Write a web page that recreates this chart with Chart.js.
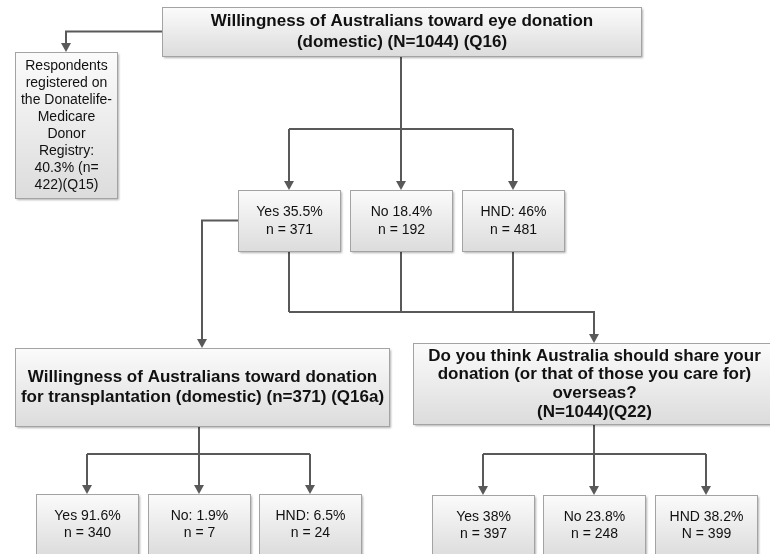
<!DOCTYPE html>
<html>
<head>
<meta charset="utf-8">
<script src="https://cdn.jsdelivr.net/npm/chart.js@4"></script>
<style>
  html, body { margin: 0; padding: 0; background: #fff; }
  #wrap { width: 770px; height: 554px; }
</style>
</head>
<body>
<div id="wrap"><canvas id="flowChart" width="770" height="554"></canvas></div>
<script>
// Q16: eye donation (domestic)
var q16Title = ["Willingness of Australians toward eye donation", "(domestic) (N=1044) (Q16)"];
var q16Labels = ["Yes", "No", "HND:"];
var q16Pct = [35.5, 18.4, 46];
var q16N = [371, 192, 481];

// Q15: registry
var q15Pct = 40.3;
var q15N = 422;

// Q16a: donation for transplantation
var q16aTitle = ["Willingness of Australians toward donation", "for transplantation (domestic) (n=371) (Q16a)"];
var q16aLabels = ["Yes", "No:", "HND:"];
var q16aPct = [91.6, 1.9, 6.5];
var q16aN = [340, 7, 24];

// Q22: share donation overseas
var q22Title = ["Do you think Australia should share your", "donation (or that of those you care for)", "overseas?", "(N=1044)(Q22)"];
var q22Labels = ["Yes", "No", "HND"];
var q22Pct = [38, 23.8, 38.2];
var q22N = [397, 248, 399];
var q22NLetter = ["n", "n", "N"];

// layout (in the chart's own units, 0..770 x 0..554)
var boxW = 102, boxH = 61;
var layout = {
  q16:  { x: 162, y: 7, w: 479, h: 49 },
  q15:  { x: 15, y: 52, w: 102, h: 146 },
  q16a: { x: 15, y: 348, w: 374, h: 78 },
  q22:  { x: 413, y: 343, w: 362, h: 81 },
  q16Row:  { xs: [238, 350, 462], y: 190 },
  q16aRow: { xs: [36, 148, 259], y: 494 },
  q22Row:  { xs: [432, 543, 655], y: 495 }
};

function pctText(label, p) { return label + " " + p + "%"; }

// build the list of nodes from the data
var nodes = [];
nodes.push({ id: "q16", box: layout.q16, lines: q16Title, bold: true, lh: 21 });
nodes.push({ id: "q15", box: layout.q15, lh: 17, lines: ["Respondents", "registered on", "the Donatelife-", "Medicare", "Donor", "Registry:", q15Pct + "% (n=", q15N + ")(Q15)"] });
nodes.push({ id: "q16a", box: layout.q16a, lines: q16aTitle, bold: true, lh: 20 });
nodes.push({ id: "q22", box: layout.q22, lines: q22Title, bold: true, lh: 18.7 });
q16Labels.forEach(function (l, i) {
  nodes.push({ id: "q16_" + i, box: { x: layout.q16Row.xs[i], y: layout.q16Row.y, w: boxW, h: boxH }, lh: 18,
    lines: [pctText(l, q16Pct[i]), "n = " + q16N[i]] });
});
q16aLabels.forEach(function (l, i) {
  nodes.push({ id: "q16a_" + i, box: { x: layout.q16aRow.xs[i], y: layout.q16aRow.y, w: boxW, h: boxH }, lh: 17,
    lines: [pctText(l, q16aPct[i]), "n = " + q16aN[i]] });
});
q22Labels.forEach(function (l, i) {
  nodes.push({ id: "q22_" + i, box: { x: layout.q22Row.xs[i], y: layout.q22Row.y, w: boxW, h: boxH }, lh: 17,
    lines: [pctText(l, q22Pct[i]), q22NLetter[i] + " = " + q22N[i]] });
});

function nodeBox(id) {
  for (var i = 0; i < nodes.length; i++) if (nodes[i].id === id) return nodes[i].box;
}
function cx(b) { return b.x + b.w / 2; }
function cy(b) { return b.y + b.h / 2; }

// connectors (poly lines with arrow at the end), built from box positions
function fan(parentId, kids, busY) {
  var p = nodeBox(parentId);
  var mid = nodeBox(kids[1]);
  var list = [[[cx(mid), p.y + p.h], [cx(mid), nodeBox(kids[1]).y]]];
  var first = nodeBox(kids[0]), last = nodeBox(kids[kids.length - 1]);
  list.push({ noArrow: true, pts: [[cx(first), busY], [cx(last), busY]] });
  list.push([[cx(first), busY], [cx(first), first.y]]);
  list.push([[cx(last), busY], [cx(last), last.y]]);
  return list;
}

var edges = [];
(function () {
  var top = nodeBox("q16"), reg = nodeBox("q15");
  edges.push([[top.x, cy(top)], [cx(reg), cy(top)], [cx(reg), reg.y]]);
  edges = edges.concat(fan("q16", ["q16_0", "q16_1", "q16_2"], 129));
  var yes = nodeBox("q16_0"), d = nodeBox("q16a");
  edges.push([[yes.x, cy(yes)], [cx(d), cy(yes)], [cx(d), d.y]]);
  var q22 = nodeBox("q22"), busY = 312;
  ["q16_0", "q16_1", "q16_2"].forEach(function (id) {
    var b = nodeBox(id);
    edges.push({ noArrow: true, pts: [[cx(b), b.y + b.h], [cx(b), busY]] });
  });
  edges.push([[cx(yes), busY], [cx(q22), busY], [cx(q22), q22.y]]);
  edges = edges.concat(fan("q16a", ["q16a_0", "q16a_1", "q16a_2"], 454));
  edges = edges.concat(fan("q22", ["q22_0", "q22_1", "q22_2"], 454));
})();

var flowPlugin = {
  id: "flow",
  afterDatasetsDraw: function (chart) {
    var ctx = chart.ctx;
    var sx = chart.scales.x, sy = chart.scales.y;
    function px(v) { return sx.getPixelForValue(v); }
    function py(v) { return sy.getPixelForValue(v); }

    // lines
    ctx.save();
    ctx.strokeStyle = "#595959";
    ctx.fillStyle = "#595959";
    ctx.lineWidth = 2;
    edges.forEach(function (e) {
      var pts = e.pts || e;
      var arrow = !e.noArrow;
      var p = pts.map(function (q) { return [px(q[0]), py(q[1])]; });
      var n = p.length;
      var a = p[n - 2], b = p[n - 1];
      var dx = b[0] - a[0], dy = b[1] - a[1];
      var len = Math.sqrt(dx * dx + dy * dy);
      var ux = dx / len, uy = dy / len;
      var head = 9;
      ctx.beginPath();
      ctx.moveTo(p[0][0], p[0][1]);
      for (var i = 1; i < n - 1; i++) ctx.lineTo(p[i][0], p[i][1]);
      if (arrow) ctx.lineTo(b[0] - ux * head, b[1] - uy * head);
      else ctx.lineTo(b[0], b[1]);
      ctx.stroke();
      if (arrow) {
        ctx.beginPath();
        ctx.moveTo(b[0], b[1]);
        ctx.lineTo(b[0] - ux * head - uy * 5, b[1] - uy * head + ux * 5);
        ctx.lineTo(b[0] - ux * head + uy * 5, b[1] - uy * head - ux * 5);
        ctx.closePath();
        ctx.fill();
      }
    });
    ctx.restore();

    // boxes
    nodes.forEach(function (nd) {
      var b = nd.box;
      var x0 = Math.round(px(b.x)) + 0.5, y0 = Math.round(py(b.y)) + 0.5;
      var x1 = Math.round(px(b.x + b.w)) + 0.5, y1 = Math.round(py(b.y + b.h)) + 0.5;
      ctx.save();
      var g = ctx.createLinearGradient(0, y0, 0, y1);
      g.addColorStop(0, "#fbfbfb");
      g.addColorStop(1, "#dcdcdc");
      ctx.shadowColor = "rgba(0,0,0,0.3)";
      ctx.shadowBlur = 2;
      ctx.shadowOffsetX = 1;
      ctx.shadowOffsetY = 1;
      ctx.fillStyle = g;
      ctx.fillRect(x0, y0, x1 - x0, y1 - y0);
      ctx.shadowColor = "transparent";
      ctx.strokeStyle = "#a3a3a3";
      ctx.lineWidth = 1;
      ctx.strokeRect(x0, y0, x1 - x0, y1 - y0);
      ctx.fillStyle = "#111";
      ctx.font = (nd.bold ? "bold 17px" : "14px") + " 'Liberation Sans', Arial, sans-serif";
      ctx.textAlign = "center";
      ctx.textBaseline = "middle";
      var mx = (x0 + x1) / 2, my = (y0 + y1) / 2;
      var startY = my - (nd.lines.length - 1) * nd.lh / 2;
      nd.lines.forEach(function (t, i) {
        ctx.fillText(t, mx, startY + i * nd.lh);
      });
      ctx.restore();
    });
  }
};

var ctxFlow = document.getElementById("flowChart").getContext("2d");
var flowChart = new Chart(ctxFlow, {
  type: "scatter",
  data: {
    datasets: [
      {
        label: "nodes",
        data: nodes.map(function (nd) { return { x: cx(nd.box), y: cy(nd.box) }; }),
        pointRadius: 0,
        pointHoverRadius: 0
      }
    ]
  },
  options: {
    responsive: false,
    animation: false,
    layout: { padding: 0 },
    scales: {
      x: { type: "linear", min: 0, max: 770, display: false },
      y: { type: "linear", min: 0, max: 554, reverse: true, display: false }
    },
    plugins: {
      legend: { display: false },
      tooltip: { enabled: false }
    }
  },
  plugins: [flowPlugin]
});
</script>
</body>
</html>
